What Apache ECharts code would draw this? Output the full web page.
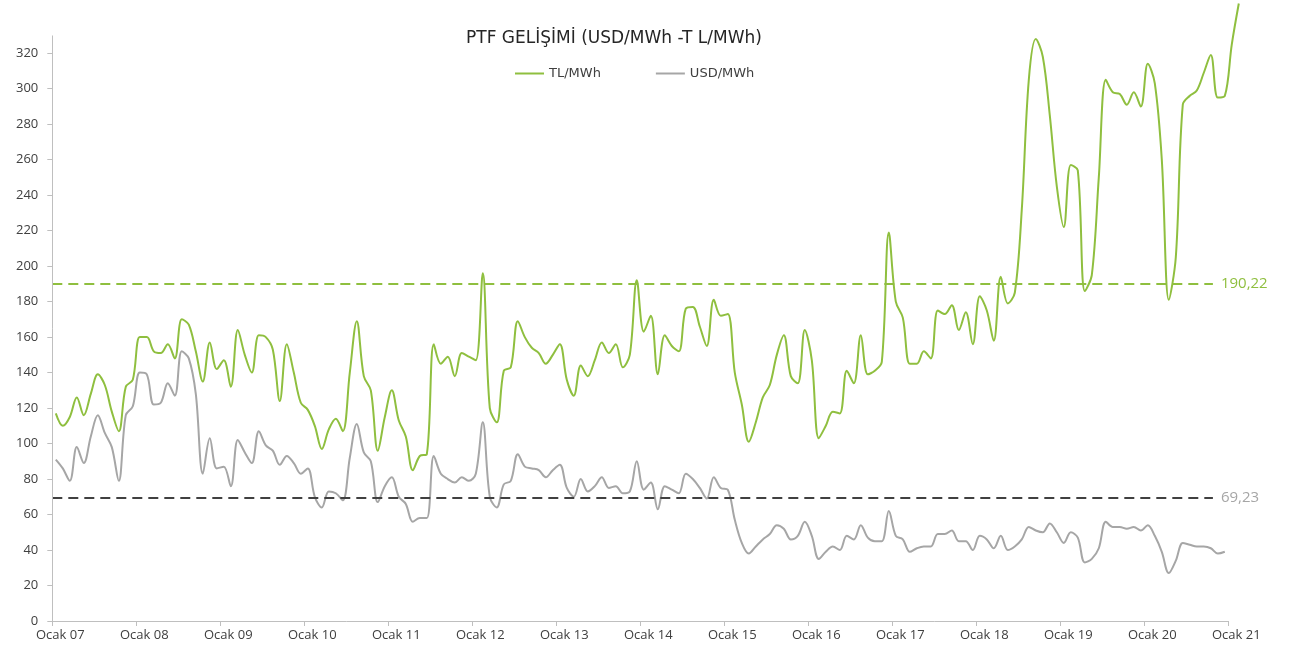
<!DOCTYPE html>
<html>
<head>
<meta charset="utf-8">
<title>PTF Gelişimi</title>
<script src="https://cdn.jsdelivr.net/npm/echarts@6/dist/echarts.min.js"></script>
<style>
  html, body { margin: 0; padding: 0; background: #fff; }
  #chart { width: 1316px; height: 648px; }
</style>
</head>
<body>
<div id="chart"></div>
<script>
// yıllar (Ocak etiketleri)
const yearLabels = ['07', '08', '09', '10', '11', '12', '13', '14', '15', '16', '17', '18', '19', '20', '21'];

// aylık PTF, TL/MWh (Ocak 07 - Şubat 21)
const tlValues = [
  117, 110, 115, 126, 116, 128, 139, 133, 118, 107,
  132, 136, 160, 160, 152, 151, 156, 148, 170, 167,
  152, 135, 157, 142, 147, 132, 164, 150, 140, 161,
  160, 153, 124, 156, 140, 123, 119, 110, 97, 108,
  114, 107, 140, 169, 138, 130, 96, 115, 130, 113,
  104, 85, 93, 94, 156, 145, 149, 138, 151, 149,
  147, 196, 120, 112, 141, 143, 169, 160, 154, 151,
  145, 150, 156, 136, 127, 144, 138, 147, 157, 151,
  156, 143, 150, 192, 163, 172, 139, 161, 155, 152,
  176, 177, 166, 155, 181, 172, 173, 140, 122, 101,
  112, 126, 133, 150, 161, 138, 134, 164, 147, 103,
  110, 118, 117, 141, 134, 161, 139, 141, 146, 219,
  180, 171, 145, 145, 152, 148, 175, 173, 178, 164,
  174, 156, 183, 175, 158, 194, 179, 185, 232, 305,
  328, 318, 285, 245, 222, 257, 254, 186, 195, 250,
  305, 298, 297, 291, 298, 290, 314, 303, 260, 181,
  205, 291, 296, 299, 309, 319, 295, 296, 325, 348
];

// aylık PTF, USD/MWh (Ocak 07 - Aralık 20)
const usdValues = [
  91, 86, 79, 98, 89, 104, 116, 106, 98, 79,
  116, 121, 140, 139, 122, 123, 134, 127, 152, 148,
  128, 83, 103, 86, 87, 76, 102, 95, 89, 107,
  99, 96, 88, 93, 89, 83, 86, 70, 64, 73,
  72, 68, 92, 111, 95, 90, 67, 76, 81, 70,
  66, 56, 58, 58, 93, 83, 80, 78, 81, 79,
  83, 112, 70, 64, 77, 79, 94, 87, 86, 85,
  81, 85, 88, 75, 70, 80, 73, 76, 81, 75,
  76, 72, 73, 90, 74, 78, 63, 76, 74, 72,
  83, 80, 75, 69, 81, 75, 74, 57, 44, 38,
  42, 46, 49, 54, 52, 46, 48, 56, 48, 35,
  39, 42, 40, 48, 46, 54, 47, 45, 45, 62,
  48, 46, 39, 41, 42, 42, 49, 49, 51, 45,
  45, 40, 48, 46, 41, 48, 40, 42, 46, 53,
  51, 50, 55, 50, 44, 50, 47, 33, 35, 41,
  56, 53, 53, 52, 53, 51, 54, 48, 39, 27,
  34, 44, 43, 42, 42, 41, 38, 39
];

// ortalamalar
const tlMean = 190.22;
const usdMean = 69.23;

const yTicks = [0, 20, 40, 60, 80, 100, 120, 140, 160, 180, 200, 220, 240, 260, 280, 300, 320];
const xTicks = yearLabels.map((y, i) => i * 12);

const green = '#8fbf3f';
const grey = '#a6a6a6';
const axisColor = '#bfbfbf';
const meanEnd = 165.8;
// eksen çizgileri burada biter, seri biraz taşıyor
const xEnd = 168;
const yEnd = 330;

// her ay kendi aralığının ortasında
function toPoints(arr) {
  return arr.map((v, i) => [i + 0.5, v]);
}

function fmt(v) {
  return v.toFixed(2).replace('.', ',');
}

const chart = echarts.init(document.getElementById('chart'));

chart.setOption({
  animation: false,
  textStyle: { fontFamily: 'Open Sans, sans-serif' },
  title: {
    text: 'PTF GELİŞİMİ (USD/MWh -T L/MWh)',
    left: 609,
    top: 25,
    textAlign: 'center',
    textStyle: { fontSize: 17, fontWeight: 'normal', color: '#262626', fontFamily: 'DejaVu Sans' }
  },
  legend: {
    left: 510,
    top: 62,
    itemWidth: 29,
    itemHeight: 2,
    itemGap: 55,
    icon: 'rect',
    textStyle: { fontSize: 13, color: '#404040', fontFamily: 'DejaVu Sans' },
    data: ['TL/MWh', 'USD/MWh']
  },
  grid: { left: 52.3, right: 73.7, top: 0, bottom: 27 },
  xAxis: {
    type: 'value',
    min: 0,
    max: 170,
    axisLine: { show: false },
    axisTick: { show: true, length: 5, customValues: xTicks, lineStyle: { color: axisColor } },
    splitLine: { show: false },
    axisLabel: {
      color: '#404040',
      fontSize: 13,
      margin: 8,
      padding: [0, 0, 0, 16],
      customValues: xTicks,
      formatter: v => 'Ocak ' + yearLabels[Math.round(v / 12)]
    }
  },
  yAxis: {
    type: 'value',
    min: 0,
    max: 350,
    axisLine: { show: false },
    axisTick: { show: true, length: 5, customValues: yTicks, lineStyle: { color: axisColor } },
    splitLine: { show: false },
    axisLabel: { color: '#404040', fontSize: 13, margin: 14, customValues: yTicks }
  },
  series: [
    {
      name: 'TL/MWh',
      type: 'line',
      data: toPoints(tlValues),
      smooth: 0.35,
      showSymbol: false,
      z: 3,
      lineStyle: { color: green, width: 2 },
      itemStyle: { color: green },
      markLine: {
        silent: true,
        symbol: 'none',
        lineStyle: { color: green, width: 2, type: [10, 6] },
        label: { show: true, position: 'end', distance: 8, color: green, fontSize: 15, formatter: () => fmt(tlMean) },
        data: [[{ coord: [0, tlMean] }, { coord: [meanEnd, tlMean] }]]
      }
    },
    {
      name: 'USD/MWh',
      type: 'line',
      data: toPoints(usdValues),
      smooth: 0.35,
      showSymbol: false,
      z: 2,
      lineStyle: { color: grey, width: 2 },
      itemStyle: { color: grey },
      markLine: {
        silent: true,
        symbol: 'none',
        lineStyle: { color: '#404040', width: 2, type: [10, 6] },
        label: { show: true, position: 'end', distance: 8, color: grey, fontSize: 15, formatter: () => fmt(usdMean) },
        data: [
          [{ coord: [0, usdMean] }, { coord: [meanEnd, usdMean] }],
          // eksen çizgileri
          [
            { coord: [0, 0], lineStyle: { color: axisColor, width: 1, type: 'solid' }, label: { show: false } },
            { coord: [xEnd, 0] }
          ],
          [
            { coord: [0, 0], lineStyle: { color: axisColor, width: 1, type: 'solid' }, label: { show: false } },
            { coord: [0, yEnd] }
          ]
        ]
      }
    }
  ]
});
</script>
</body>
</html>
